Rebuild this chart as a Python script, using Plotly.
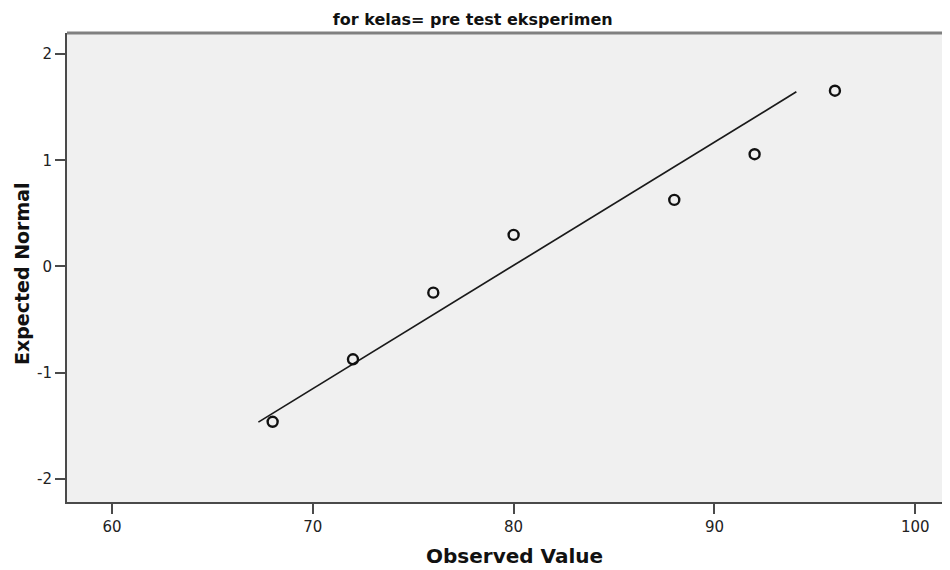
import plotly.graph_objects as go

# Data (Normal Q-Q plot)
observed = [68, 72, 76, 80, 88, 92, 96]
expected_normal = [-1.464, -0.875, -0.247, 0.297, 0.627, 1.058, 1.656]
line_x = [67.29, 94.08]
line_y = [-1.467, 1.646]
x_ticks = [60, 70, 80, 90, 100]
x_tick_text = ["60", "70", "80", "90", "100"]
y_ticks = [-2, -1, 0, 1, 2]
y_tick_text = ["-2", "-1", "0", "1", "2"]

# page body has an 8px default margin; figure is sized to fill the 950x570 window
OFF = 8
W, H = 950 - OFF, 570 - OFF
L, R, T = 67 - OFF, 0, 33 - OFF
B = H - (502 - OFF)

fig = go.Figure()
fig.add_trace(go.Scatter(x=line_x, y=line_y, mode="lines",
                         line=dict(color="#1a1a1a", width=1.7), hoverinfo="skip"))
fig.add_trace(go.Scatter(x=observed, y=expected_normal, mode="markers",
                         marker=dict(symbol="circle-open", size=10,
                                     line=dict(color="#111", width=2.4),
                                     color="#111")))

bold_family = "DejaVu Sans, Arial, sans-serif"
tick_family = "DejaVu Sans, Arial, sans-serif"
tickfont = dict(family=tick_family, size=15, color="#222")
pw, ph = W - L - R, H - T - B

fig.update_layout(
    width=W, height=H,
    margin=dict(l=L, r=R, t=T, b=B, pad=0),
    paper_bgcolor="white",
    plot_bgcolor="#f0f0f0",
    showlegend=False,
    title=dict(text="<b>for kelas= pre test eksperimen</b>",
               x=(472.7 - OFF) / W, xanchor="center", xref="container",
               y=1 - (19 - OFF) / H, yanchor="middle", yref="container",
               font=dict(family=bold_family, size=16, color="#111")),
    xaxis=dict(range=[57.76, 101.73], tickvals=x_ticks, ticktext=x_tick_text,
               showgrid=False, zeroline=False,
               showline=True, linecolor="#4a4a4a", linewidth=2,
               ticks="outside", ticklen=10, tickwidth=2, tickcolor="#4a4a4a",
               tickfont=tickfont),
    yaxis=dict(range=[-2.22, 2.2], tickvals=y_ticks, ticktext=y_tick_text,
               showgrid=False, zeroline=False,
               showline=True, linecolor="#4a4a4a", linewidth=2,
               ticks="outside", ticklen=10, tickwidth=2, tickcolor="#4a4a4a",
               tickfont=tickfont),
    shapes=[dict(type="line", xref="paper", yref="paper", x0=0, x1=1, y0=1, y1=1,
                 line=dict(color="#808080", width=3))],
    annotations=[
        dict(text="<b>Observed Value</b>", xref="paper", yref="paper",
             x=(515 - OFF - L) / pw, y=-(556 - OFF - (H - B)) / ph,
             xanchor="center", yanchor="middle", showarrow=False,
             font=dict(family=bold_family, size=20, color="#111")),
        dict(text="<b>Expected Normal</b>", xref="paper", yref="paper",
             x=-(L - (22 - OFF)) / pw, y=1 - (274 - OFF - T) / ph,
             xanchor="center", yanchor="middle", showarrow=False, textangle=-90,
             font=dict(family=bold_family, size=19, color="#111")),
    ],
)

fig.write_html("out.html")
